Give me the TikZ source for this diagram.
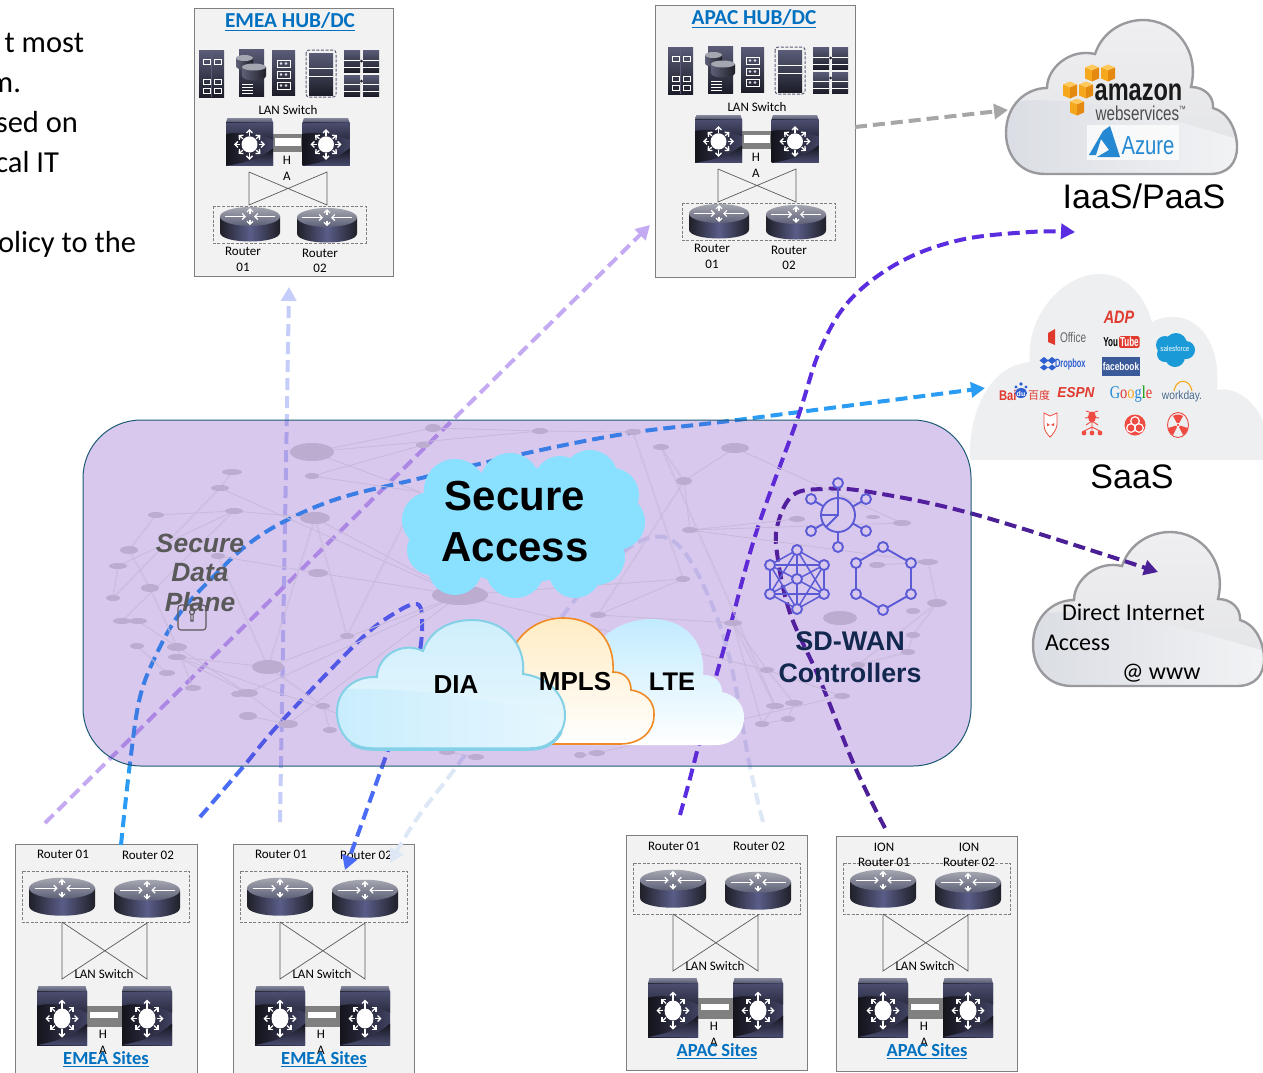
\documentclass[tikz,border=0pt]{standalone}
\usepackage{fontspec}
\setmainfont{Carlito}
\newfontfamily\ari{Liberation Sans}
\newfontfamily\lserif{Liberation Serif}
\newfontfamily\cjkf{Noto Sans CJK SC}
\usetikzlibrary{arrows.meta,calc}
\newcommand\fsz[1]{\fontsize{#1}{#1}\selectfont}
\newcommand\ulb[1]{\underline{#1}}
\definecolor{boxfill}{HTML}{F2F2F2}
\definecolor{boxline}{HTML}{7F7F7F}
\definecolor{titleblue}{HTML}{0070C0}
\definecolor{rackA}{HTML}{5A5C78}
\definecolor{rackB}{HTML}{1C1D28}
\definecolor{rtEdge}{HTML}{1F2028}
\definecolor{rtMid}{HTML}{5A5D88}
\definecolor{rtTopA}{HTML}{A4A6B0}
\definecolor{rtTopB}{HTML}{5E6078}
\definecolor{swTopA}{HTML}{85879C}
\definecolor{swTopB}{HTML}{50526A}
\definecolor{swDark}{HTML}{14141C}
\definecolor{swMid}{HTML}{3F4160}
\definecolor{swUpA}{HTML}{4C4E70}
\definecolor{swUpB}{HTML}{2A2B40}
\definecolor{swLow}{HTML}{4A4C70}
\definecolor{panelc}{HTML}{6823BB}
\definecolor{panelrim}{HTML}{1C5A74}
\definecolor{netc}{HTML}{BBACD0}
\definecolor{netl}{HTML}{C8BADA}
\definecolor{seccloud}{HTML}{8AE0FF}
\definecolor{diaA}{HTML}{CFEFFC}
\definecolor{diaB}{HTML}{EAF8FE}
\definecolor{diaC}{HTML}{C9EDFD}
\definecolor{diaD}{HTML}{E6F7FE}
\definecolor{diarim}{HTML}{84D0E6}
\definecolor{mplsA}{HTML}{FFECC4}
\definecolor{mplsrim}{HTML}{F08A24}
\definecolor{lteA}{HTML}{C2EBFF}
\definecolor{grayrim}{HTML}{9A9A9E}
\definecolor{cloudA}{HTML}{EFEFF1}
\definecolor{cloudB}{HTML}{E2E3E6}
\definecolor{cloudC}{HTML}{DADDE3}
\definecolor{cloudD}{HTML}{F2F3F5}
\definecolor{saasfill}{HTML}{EEEFF1}
\definecolor{arrGrey}{HTML}{A6A6A6}
\definecolor{arrIndigo}{HTML}{5A2DE0}
\definecolor{arrBlue}{HTML}{2B9CF4}
\definecolor{arrLilac}{HTML}{C4AAF2}
\definecolor{arrPeri}{HTML}{C5CDFA}
\definecolor{arrRoyal}{HTML}{4A6BF5}
\definecolor{arrPale}{HTML}{DDE7F5}
\definecolor{arrDark}{HTML}{4B1F96}
\definecolor{iconc}{HTML}{5B5BD6}
\definecolor{ctrltxt}{HTML}{12284F}
\definecolor{sdp}{HTML}{595959}
\definecolor{awsA}{HTML}{F5A81C}
\definecolor{awsB}{HTML}{E58A10}
\definecolor{awsC}{HTML}{FFC85A}
\definecolor{azure}{HTML}{2488D2}
\definecolor{logored}{HTML}{E03A2E}
\definecolor{iconred}{HTML}{EE4B43}
\definecolor{sfblue}{HTML}{1A9AD6}
\definecolor{fbblue}{HTML}{3B5A9A}
\definecolor{dropb}{HTML}{2E5FD0}
\definecolor{wkblue}{HTML}{4A6A8C}
\tikzset{
  txt/.style={inner sep=0pt,outer sep=0pt,align=center,text=black},
  small/.style={txt,font=\fsz{13}},
  frame/.style={draw=boxline,line width=1pt,fill=boxfill},
  dashbox/.style={draw=boxline,line width=.8pt,dash pattern=on 3pt off 1.6pt},
  xlink/.style={draw=black!65,line width=.7pt},
  halink/.style={fill=black!50},
  flow/.style={line width=4pt,dash pattern=on 12pt off 6pt,-{Triangle[length=14pt,width=15pt]}},
  net/.style={draw=netl,line width=.9pt},
  netdot/.style={draw=netl,line width=2pt,dash pattern=on .9pt off .9pt},
  pics/routericon/.style={code={
    \shade[left color=rtEdge,right color=rtEdge,middle color=rtMid]
      (-30,-8) -- (-30,8) .. controls (-30,20) and (30,20) .. (30,8) -- (30,-8) -- cycle;
    \shade[top color=rtTopA,bottom color=rtTopB] (0,-8) ellipse [x radius=30,y radius=9.5];
    \draw[white,line width=1.2pt,-{Straight Barb[length=3pt,width=6pt]}] (-25,-8) -- (-4,-8);
    \draw[white,line width=1.2pt,-{Straight Barb[length=3pt,width=6pt]}] (25,-8) -- (4,-8);
    \draw[white,line width=1.2pt,-{Straight Barb[length=3pt,width=6pt]}] (0,-11) -- (0,-16.5);
    \draw[white,line width=1.2pt,-{Straight Barb[length=3pt,width=6pt]}] (0,-5) -- (0,.5);
  }},
  pics/switchicon/.style={code={
    \shade[top color=swTopA,bottom color=swTopB] (-25,-24) -- (-23.5,-29.5) -- (23.5,-29.5) -- (25,-24) -- cycle;
    \shade[left color=swDark,right color=swMid] (-25,-24) rectangle (25,29.5);
    \shade[top color=swUpA,bottom color=swUpB] (-25,-24) -- (25,-24) -- (25,-3) .. controls (8,-11) and (-10,-13) .. (-25,-10) -- cycle;
    \shade[top color=swDark,bottom color=swLow] (25,8) .. controls (12,20) and (-5,26) .. (-25,29.5) -- (25,29.5) -- cycle;
    \fill[white] (0,3) ellipse [x radius=8.5,y radius=10];
    \foreach \ang in {0,45,135,180,225,315}
      \draw[white,line width=1.3pt,-{Straight Barb[length=3pt,width=6pt]}]
        ($(0,3)+(\ang:10)$) -- ($(0,3)+(\ang:16.5)$);
    \draw[white,line width=1.3pt,-{Straight Barb[length=3pt,width=6pt]}] (0,-7) -- (0,-16);
    \draw[white,line width=1.3pt,-{Straight Barb[length=3pt,width=6pt]}] (0,13) -- (0,22);
  }},
  pics/awscube/.style={code={
    \fill[awsC] (0,-8.5) -- (7,-5.5) -- (0,-2.5) -- (-7,-5.5) -- cycle;
    \fill[awsA] (-7,-5.5) -- (0,-2.5) -- (0,8.5) -- (-7,5.5) -- cycle;
    \fill[awsB] (7,-5.5) -- (0,-2.5) -- (0,8.5) -- (7,5.5) -- cycle;
  }},
}
\newcommand\graycloudpath{
  (1045,174) .. controls (1020,174) and (1006,155) .. (1006,133)
  .. controls (1006,105) and (1026,88) .. (1047,88)
  .. controls (1047,68) and (1070,48) .. (1095,54)
  .. controls (1103,30) and (1125,20) .. (1143,20)
  .. controls (1175,20) and (1200,50) .. (1191,87)
  .. controls (1205,87) and (1214,97) .. (1213,108)
  .. controls (1228,112) and (1237,130) .. (1237,147)
  .. controls (1237,163) and (1228,174) .. (1210,174) -- cycle}
\newcommand\graycloud[3]{%
  \begin{scope}[shift={(#2,#3)}]
    \shade[top color=cloudA,bottom color=cloudB] \graycloudpath;
    \begin{scope}
      \clip \graycloudpath;
      \shade[left color=cloudC,right color=cloudD]
        (1000,103) .. controls (1070,92) and (1160,115) .. (1240,140) -- (1240,180) -- (1000,180) -- cycle;
    \end{scope}
    \draw[grayrim,line width=2.4pt] \graycloudpath;
    \coordinate (#1) at (1120,100);
  \end{scope}}
\newcommand\serverrow[3]{%
  \begin{scope}[shift={(#2,#3)},name prefix=#1-]
    % rack with squares
    \shade[top color=rackA,bottom color=rackB] (199,50) rectangle (224,97);
    \draw[rackA,line width=.5pt] (211.5,50) -- (211.5,97);
    \foreach \xa in {203,214} \foreach \ya in {59,79,88}
      \draw[white,line width=.7pt] (\xa,\ya) rectangle ++(7,5);
    % storage
    \shade[top color=rackA,bottom color=rackB] (239,49) rectangle (264,96);
    \foreach \ya in {84,87,90,93} \draw[white,line width=.7pt] (242,\ya) -- (253,\ya);
    \shade[left color=rtTopB,right color=rtEdge] (236,58) -- (236,66) .. controls (236,71) and (253,71) .. (253,66) -- (253,58) -- cycle;
    \fill[rtTopA] (244.5,58) ellipse [x radius=8.5,y radius=3];
    \shade[left color=rtTopB,right color=rtEdge] (242,67) -- (242,76) .. controls (242,82) and (266,82) .. (266,76) -- (266,67) -- cycle;
    \fill[rtTopA] (254,67) ellipse [x radius=12,y radius=3.5];
    % tape
    \shade[top color=rackA,bottom color=rackB] (272,50) rectangle (295,95);
    \foreach \ya in {60,71,82} {
      \draw[white,line width=.7pt] (277,\ya) rectangle ++(13,7);
      \draw[white,line width=.5pt] (281,\ya+3.5) circle (1pt) (286,\ya+3.5) circle (1pt);
    }
    % dashed rack
    \draw[dashbox,draw=rackA,line width=1pt,rounded corners=3pt] (306,50) rectangle (336,97);
    \shade[top color=rackA,bottom color=rackB] (309,53) rectangle (333,95);
    \foreach \ya in {68,76.5} \draw[white,line width=1pt] (309,\ya) -- (333,\ya);
    % blade rack
    \foreach \xa in {344,363} {
      \shade[top color=rackA,bottom color=rackB] (\xa,50) rectangle ++(16,22);
      \shade[top color=rackA,bottom color=rackB] (\xa,75) rectangle ++(16,21);
      \foreach \ya in {60,67,84,91} \draw[white,line width=.6pt] (\xa,\ya) -- ++(16,0);
    }
    \fill[rackB] (361.5,61) circle (1.5pt) (361.5,81) circle (1.5pt);
    \node[small] (lan) at (288,110) {LAN Switch};
    \coordinate (s1) at (249,172); \coordinate (s2) at (327,172);
    \coordinate (r1) at (249,205); \coordinate (r2) at (327,205);
    \draw[xlink] (s1) -- (r1) -- (s2) -- (r2) -- (s1);
    \fill[halink] (273,134) rectangle (303,152);
    \fill[white] (275,138) rectangle (301,146);
    \pic[xscale=.94,yscale=.81] (swa) at (249.5,142) {switchicon};
    \pic[xscale=.94,yscale=.81] (swb) at (326,142) {switchicon};
    \node[small] (hah) at (287,160) {H};
    \node[small] (haa) at (287,176) {A};
    \draw[dashbox] (213,206) rectangle (366,243);
    \pic (rta) at (250,224.5) {routericon};
    \pic (rtb) at (327,225.5) {routericon};
    \node[small] (la) at (243,251) {Router};
    \node[small] (lb) at (243,267) {01};
    \node[small] (lc) at (320,253) {Router};
    \node[small] (ld) at (320,268) {02};
  \end{scope}}
\newcommand\sitecontent[4]{%
  \begin{scope}[shift={(#2,#3)},name prefix=#1-]
    \coordinate (r1) at (62,922); \coordinate (r2) at (147,923);
    \coordinate (s1) at (62,979); \coordinate (s2) at (147,979);
    \draw[dashbox] (22,871) rectangle (189,922);
    \draw[xlink] (r1) -- (s1) -- (r2) -- (s2) -- (r1);
    \pic[scale=1.1] (rta) at (62,897) {routericon};
    \pic[scale=1.1] (rtb) at (147,899) {routericon};
    \node[small] (lan) at (104,974) {LAN Switch};
    \fill[halink] (87,1006) rectangle (122,1027);
    \fill[white] (90,1012) rectangle (118,1018);
    \pic (swa) at (62,1015.5) {switchicon};
    \pic (swb) at (147,1015.5) {switchicon};
    \node[small] (hah) at (103,1034) {H};
    \node[small] (haa) at (103,1050) {A};
    \node[txt,font=\fsz{18.5}\bfseries,text=titleblue] (title) at (106,1059) {\ulb{#4}};
  \end{scope}}
\begin{document}
\begin{tikzpicture}[x=1pt,y=-1pt]
\useasboundingbox (0,0) rectangle (1263,1072);
\clip (0,0) rectangle (1263,1072);
% clipped page text
\node[txt,anchor=base east,font=\fsz{30.5}] (ta) at (84,52) {t most};
\node[txt,anchor=base east,font=\fsz{30.5}] (tb) at (21,92) {m.};
\node[txt,anchor=base east,font=\fsz{30.5}] (tc) at (78,132) {sed on};
\node[txt,anchor=base east,font=\fsz{30.5}] (td) at (59,172) {cal IT};
\node[txt,anchor=base east,font=\fsz{30.5}] (te) at (136,252) {olicy to the};
% hub boxes
\draw[frame] (194,8) rectangle (393,276);
\node[txt,font=\fsz{21.3}\bfseries,text=titleblue] (emeahub) at (290,22) {\ulb{EMEA HUB/DC}};
\serverrow{emea}{0}{0}
\draw[frame] (655,5) rectangle (855,277);
\node[txt,font=\fsz{21.3}\bfseries,text=titleblue] (apachub) at (754,19) {\ulb{APAC HUB/DC}};
\serverrow{apac}{469}{-3}
% site boxes
\draw[frame] (15,844) rectangle (197,1080);
\node[small] (s1a) at (63,854) {Router 01};
\node[small] (s1b) at (148,855) {Router 02};
\sitecontent{site1}{0}{0}{EMEA Sites}
\draw[frame] (233,844) rectangle (414,1080);
\node[small] (s2a) at (281,854) {Router 01};
\node[small] (s2b) at (366,855) {Router 02};
\sitecontent{site2}{218}{0}{EMEA Sites}
\draw[frame] (626,835) rectangle (807,1070);
\node[small] (s3a) at (674,846) {Router 01};
\node[small] (s3b) at (759,846) {Router 02};
\sitecontent{site3}{611}{-8}{APAC Sites}
\draw[frame] (836,836) rectangle (1017,1071);
\node[small] (s4a) at (884,847) {ION};
\node[small] (s4b) at (969,847) {ION};
\sitecontent{site4}{821}{-8}{APAC Sites}
\node[small] (s4c) at (884,862) {Router 01};
\node[small] (s4d) at (969,862) {Router 02};
% targets
\graycloud{iaas}{0}{0}
\graycloud{dia}{27}{512}
% SaaS cloud
\fill[saasfill] (970,460) .. controls (968,420) and (985,366) .. (1030,362)
  .. controls (1025,320) and (1060,274) .. (1100,274)
  .. controls (1125,274) and (1145,295) .. (1152,322)
  .. controls (1185,305) and (1222,330) .. (1217,390)
  .. controls (1240,385) and (1263,410) .. (1265,430) -- (1265,460) -- cycle;
\coordinate (saas) at (1100,390);
% connector way points
\foreach \n/\x/\y in {
 gr0/855/127, gr1/1008/110,
 in0/680/815, in1/693/767, in2/717/673, in3/730/627, in4/757/530, in5/797/420, in6/820/350, in7/850/300, in8/900/262, in9/960/240, in10/1030/232, in11/1075/232,
 bl0/121/845, bl1/130/763, bl2/140/697, bl3/157/653, bl4/180/613, bl5/213/577, bl6/247/545, bl7/287/520, bl8/340/498, bl9/413/480, bl10/527/453, bl11/630/433, bl12/737/420, bl13/985/388,
 pe0/280/822, pe1/289/287,
 li0/45/823, li1/650/225,
 ro0/200/817, ro1/243/767, ro2/280/723, ro3/363/637, ro4/400/610, ro5/417/604, ro6/422/615, ro7/420/650, ro8/405/700, ro9/387/753, ro10/345/870,
 pa0/763/822, pa1/750/767, pa2/730/660, pa3/707/593, pa4/680/547, pa5/653/537, pa6/617/557, pa7/567/610, pa8/465/755, pa9/418/817, pa10/390/863,
 da0/885/828, da1/855/767, da2/820/680, da3/790/613, da4/777/553, da5/778/523, da6/793/495, da7/823/489, da8/870/492, da9/977/515, da10/1158/572}
 {\coordinate (\n) at (\x,\y);}
% connectors (the panel is laid over them)
\draw[flow,arrGrey] (gr0) -- (gr1);
\draw[flow,arrPeri] (pe0) -- (pe1);
\draw[flow,arrLilac] (li0) -- (li1);
\draw[flow,arrPale] plot[smooth,tension=.6] coordinates {(pa0) (pa1) (pa2) (pa3) (pa4) (pa5) (pa6) (pa7) (pa8) (pa9) (pa10)};
\draw[flow,arrBlue] plot[smooth,tension=.6] coordinates {(bl0) (bl1) (bl2) (bl3) (bl4) (bl5) (bl6) (bl7) (bl8) (bl9) (bl10) (bl11) (bl12) (bl13)};
\draw[flow,arrRoyal] plot[smooth,tension=.5] coordinates {(ro0) (ro1) (ro2) (ro3) (ro4) (ro5) (ro6) (ro7) (ro8) (ro9) (ro10)};
\draw[flow,arrIndigo] plot[smooth,tension=.6] coordinates {(in0) (in1) (in2) (in3) (in4) (in5) (in6) (in7) (in8) (in9) (in10) (in11)};
\draw[flow,arrDark] plot[smooth,tension=.6] coordinates {(da0) (da1) (da2) (da3) (da4) (da5) (da6) (da7) (da8) (da9) (da10)};
% panel
\fill[panelc,opacity=.25] (83,420) [rounded corners=58pt] rectangle (971,766);
\draw[panelrim,line width=1pt,rounded corners=58pt] (83,420) rectangle (971,766);
% faint network
\foreach \i/\x/\y/\rx/\ry in {
 1/312/452/22/9,2/433/428/8/4,3/423/445/7/3,4/312/476/7/3,5/232/472/10/3,6/220/488/9/3,7/234/511/9/3,8/156/515/8/3,9/315/518/15/6,10/129/550/9/4,
 11/118/566/9/3,12/113/598/7/3,13/150/588/9/4,14/218/556/7/3,15/318/573/10/4,16/122/621/9/3,17/138/621/9/3,18/137/646/7/3,19/177/647/10/4,20/177/657/9/3,
 21/167/673/8/3,22/193/688/8/3,23/237/694/6/3,24/247/693/11/4,25/248/716/9/4,26/268/667/16/7,27/288/724/10/4,28/323/706/7/3,29/330/730/7/3,30/347/636/7/3,
 31/460/595/28/10,32/447/752/8/3,33/476/757/8/3,34/540/431/8/3,35/633/432/8/3,36/661/447/8/3,37/735/448/14/5,38/684/481/8/4,39/690/530/8/3,40/683/579/7/3,
 41/598/615/8/3,42/733/623/9/3,43/797/519/8/3,44/873/517/7/2,45/902/523/9/3,46/877/565/8/3,47/928/562/10/3,48/937/603/10/4,49/913/611/7/3,50/840/618/17/7,
 51/913/635/7/3,52/908/652/7/3,53/858/665/7/3,54/767/670/7/3,55/842/696/8/3,56/794/703/9/3,57/775/706/9/3,58/788/719/7/3,59/762/724/7/3,60/597/753/8/3,61/580/755/6/3,62/420/492/6/3}
 {\coordinate (n\i) at (\x,\y);}
\foreach \a/\b in {1/2,1/62,4/3,4/62,6/31,7/9,8/7,9/31,15/31,14/15,16/7,17/24,20/26,20/32,20/24,24/31,24/27,27/31,25/27,26/31,37/45,37/38,39/45,39/47,40/41,41/42,42/59,46/47,54/55,55/60,56/58,57/59,58/59,38/39,1/34,2/34,34/35,28/29,23/24,60/61,33/32,11/7,31/54,39/43,40/31,42/54}
 \draw[net] (n\a) -- (n\b);
\foreach \a/\b in {5/6,6/12,8/10,10/13,13/19,11/12,14/26,9/26,9/30,62/30,18/21,36/57,35/40,38/36,47/48,48/51,48/53,51/52,52/53,57/42,56/54,38/41,19/22,26/28}
 \draw[netdot] (n\a) -- (n\b);
\foreach \x/\y/\rx/\ry in {
 312/452/22/9,433/428/8/4,423/445/7/3,312/476/7/3,232/472/10/3,220/488/9/3,234/511/9/3,156/515/8/3,315/518/15/6,129/550/9/4,
 118/566/9/3,113/598/7/3,150/588/9/4,218/556/7/3,318/573/10/4,122/621/9/3,138/621/9/3,137/646/7/3,177/647/10/4,177/657/9/3,
 167/673/8/3,193/688/8/3,237/694/6/3,247/693/11/4,248/716/9/4,268/667/16/7,288/724/10/4,323/706/7/3,330/730/7/3,347/636/7/3,
 460/595/28/10,447/752/8/3,476/757/8/3,540/431/8/3,633/432/8/3,661/447/8/3,735/448/14/5,684/481/8/4,690/530/8/3,683/579/7/3,
 598/615/8/3,733/623/9/3,797/519/8/3,873/517/7/2,902/523/9/3,877/565/8/3,928/562/10/3,937/603/10/4,913/611/7/3,840/618/17/7,
 913/635/7/3,908/652/7/3,858/665/7/3,767/670/7/3,842/696/8/3,794/703/9/3,775/706/9/3,788/719/7/3,762/724/7/3,597/753/8/3,580/755/6/3}
 {\fill[netc] (\x,\y) ellipse [x radius=\rx,y radius=\ry];}
% Secure data plane
\node[txt,font=\ari\fsz{26.4}\bfseries\itshape,text=sdp] (sdpa) at (200,543) {Secure};
\node[txt,font=\ari\fsz{26.4}\bfseries\itshape,text=sdp] (sdpb) at (200,573) {Data};
\node[txt,font=\ari\fsz{26.4}\bfseries\itshape,text=sdp] (sdpc) at (200,602) {Plane};
\draw[sdp,line width=1.1pt,rounded corners=3pt] (178,605) rectangle (206,630);
\draw[sdp,line width=1.1pt] (192,612) circle (2.5pt) (190.8,614) -- (191,621) -- (193,621) -- (193.2,614);
% Secure Access cloud
\fill[seccloud] (430,520) circle (28) (432,550) circle (25) (455,490) circle (31) (510,483) circle (30) (560,482) circle (26) (590,478) circle (28)
 (612,495) circle (27) (617,522) circle (28) (597,557) circle (28) (575,572) circle (26) (515,568) circle (30) (455,568) circle (27) (520,525) ellipse [x radius=90,y radius=58];
\node[txt,font=\ari\fsz{42}\bfseries] (secure) at (515,496) {Secure};
\node[txt,font=\ari\fsz{42}\bfseries] (access) at (515,547) {Access};
% LTE cloud
\shade[top color=lteA,bottom color=white]
 (600,640) .. controls (612,628) and (630,619) .. (652,619)
 .. controls (685,619) and (706,642) .. (703,675)
 .. controls (714,674) and (722,682) .. (722,692)
 .. controls (736,695) and (744,705) .. (744,717)
 .. controls (744,734) and (732,745) .. (716,745) -- (560,745) -- cycle;
% MPLS cloud
\shade[top color=mplsA,bottom color=white,draw=mplsrim,line width=1.6pt]
 (515,645) .. controls (525,628) and (543,618) .. (563,618)
 .. controls (595,618) and (615,640) .. (613,672)
 .. controls (625,672) and (631,680) .. (631,690)
 .. controls (645,692) and (655,702) .. (654,715)
 .. controls (654,732) and (640,744) .. (620,744) -- (545,744) -- cycle;
% DIA cloud
\newcommand\diapath{(372,749) .. controls (350,749) and (337,732) .. (337,712)
 .. controls (337,690) and (355,676) .. (377,677)
 .. controls (377,658) and (400,640) .. (423,651)
 .. controls (430,630) and (450,620) .. (472,620)
 .. controls (505,620) and (526,645) .. (523,674)
 .. controls (548,677) and (565,695) .. (565,715)
 .. controls (565,735) and (550,749) .. (530,749) -- cycle}
\shade[top color=diaA,bottom color=diaB] \diapath;
\begin{scope}
 \clip \diapath;
 \shade[left color=diaC,right color=diaD] (335,689) .. controls (420,688) and (480,695) .. (570,720) -- (570,755) -- (335,755) -- cycle;
\end{scope}
\draw[diarim,line width=2pt] \diapath;
\draw[diarim,line width=3.5pt,line cap=round] (352,744) .. controls (360,748) and (366,749) .. (372,749) -- (530,749) .. controls (545,749) and (555,743) .. (561,732);
\node[txt,font=\ari\fsz{26}\bfseries] (dial) at (456,685) {DIA};
\node[txt,font=\ari\fsz{26}\bfseries] (mpls) at (575,682) {MPLS};
\node[txt,font=\ari\fsz{25.5}\bfseries] (lte) at (672,682) {LTE};
% SD-WAN icons
\begin{scope}[iconc,line width=1.9pt]
 \foreach \n/\x/\y in {a/838/483,b/866/499,c/866/531,d/838/547,e/811/531,f/811/499}
  \coordinate (hub\n) at (\x,\y);
 \coordinate (hubo) at (838,515);
 \foreach \n in {a,b,c,d,e,f} \draw (hubo) -- (hub\n);
 \fill[fill=panelc!25!white] (hubo) circle (17);
 \draw (hubo) circle (17);
 \draw (838,498) -- (hubo) -- (821,515) (hubo) -- (826,527);
 \foreach \n in {a,b,c,d,e,f} \draw[fill=panelc!25!white] (hub\n) circle (5);
 \foreach \n/\x/\y in {a/797/550,b/824/565,c/824/594,d/797/609,e/770/594,f/770/565,o/797/579}
  \coordinate (msh\n) at (\x,\y);
 \foreach \p/\q in {a/b,a/c,a/d,a/e,a/f,b/c,b/d,b/e,b/f,c/d,c/e,c/f,d/e,d/f,e/f}
  \draw[line width=1.5pt] (msh\p) -- (msh\q);
 \foreach \n in {a,b,c,d,e,f,o} \draw[fill=panelc!25!white] (msh\n) circle (5);
 \foreach \n/\x/\y in {a/883/547,b/911/563,c/911/594,d/883/610,e/856/594,f/856/563}
  \coordinate (hx\n) at (\x,\y);
 \draw (hxa) -- (hxb) -- (hxc) -- (hxd) -- (hxe) -- (hxf) -- cycle;
 \foreach \n in {a,b,c,d,e,f} \draw[fill=panelc!25!white] (hx\n) circle (5);
\end{scope}
\node[txt,font=\ari\fsz{27}\bfseries,text=ctrltxt] (sdwan) at (850,641) {SD-WAN};
\node[txt,font=\ari\fsz{26.8}\bfseries,text=ctrltxt] (ctrl) at (850,673) {Controllers};
% IaaS contents
\pic (cube1) at (1092,73) {awscube};
\pic (cube2) at (1108,73) {awscube};
\pic (cube3) at (1070,90) {awscube};
\pic (cube4) at (1086,90) {awscube};
\pic (cube5) at (1077,107) {awscube};
\node[txt,font=\ari\fsz{31}\bfseries,text=black!90] (amazon) at (1138.5,92) {\scalebox{.76}[1]{amazon}};
\node[txt,font=\ari\fsz{20},text=black!70] (awsws) at (1141,113) {\scalebox{.76}[1]{webservices\textsuperscript{\fsz{9}™}}};
\fill[white,opacity=.75] (1087,125) rectangle (1179,160);
\fill[azure] (1089,155) -- (1103,131) -- (1110,126) -- (1120,157) -- (1097,157) -- (1109,150) -- (1101,139) -- (1096,155) -- cycle;
\node[txt,font=\ari\fsz{26},text=azure] (azuret) at (1148,146) {\scalebox{.78}[1]{Azure}};
\node[txt,font=\ari\fsz{34}] (iaast) at (1144,196) {IaaS/PaaS};
% SaaS contents
\node[txt,font=\ari\fsz{34}] (saast) at (1132,477) {SaaS};
\node[txt,font=\ari\fsz{18}\bfseries\itshape,text=logored] (adp) at (1119,317) {\scalebox{.8}[1]{ADP}};
\fill[logored] (1048,333) -- (1055,329) -- (1055,345) -- (1048,342) -- cycle;
\node[txt,font=\ari\fsz{14},text=black!60,anchor=west] (office) at (1060,337) {\scalebox{.72}[1]{Office}};
\node[txt,font=\ari\fsz{13}\bfseries,text=black,anchor=east] (youa) at (1118,342) {\scalebox{.62}[1]{You}};
\node[txt,fill=logored,rounded corners=1.5pt,inner sep=1pt,font=\ari\fsz{13}\bfseries,text=white,anchor=west] (youb) at (1119,342) {\scalebox{.62}[1]{Tube}};
\fill[sfblue] (1165,345) circle (9) (1176,344) circle (11) (1186,350) circle (9) (1175,357) circle (10) (1165,354) circle (8);
\node[txt,font=\ari\fsz{7.5},text=white] (sf) at (1175,348.5) {\scalebox{.85}[1]{salesforce}};
\fill[dropb] (1044,357) -- (1048.5,360.5) -- (1044,364) -- (1039.5,360.5) -- cycle (1052,357) -- (1056.5,360.5) -- (1052,364) -- (1047.5,360.5) -- cycle (1044,364.5) -- (1048,367.5) -- (1044,370.5) -- (1040,367.5) -- cycle (1052,364.5) -- (1056,367.5) -- (1052,370.5) -- (1048,367.5) -- cycle;
\node[txt,font=\ari\fsz{12}\bfseries,text=dropb,anchor=west] (dropbox) at (1055,364.5) {\scalebox{.62}[1]{Dropbox}};
\node[txt,fill=fbblue,font=\ari\fsz{11}\bfseries,text=white,minimum width=38pt,minimum height=19pt] (fb) at (1121,366.5) {\scalebox{.75}[1]{facebook}};
\node[txt,font=\ari\fsz{14}\bfseries,text=logored,anchor=west] (baia) at (999,395) {\scalebox{.8}[1]{Bai}};
\fill[dropb] (1021,393) ellipse [x radius=6,y radius=5] (1016,387) circle (1.7) (1021,384) circle (1.8) (1026,387) circle (1.7);
\node[txt,font=\ari\fsz{7}\bfseries,text=white] (baib) at (1021,394) {du};
\node[txt,font=\cjkf\fsz{11},text=logored,anchor=west] (baic) at (1028,395) {百度};
\node[txt,font=\ari\fsz{16}\bfseries\itshape,text=logored] (espn) at (1076,393) {\scalebox{.85}[.9]{ESPN}};
\node[txt,font=\lserif\fsz{18}] (google) at (1131,394) {\scalebox{.8}[1]{\textcolor{azure}{G}\textcolor{logored}{o}\textcolor{awsA}{o}\textcolor{azure}{g}\textcolor{green!60!black}{l}\textcolor{logored}{e}}};
\draw[awsA,line width=1.1pt] (1174,391) .. controls (1176,378) and (1190,378) .. (1192,391);
\node[txt,font=\ari\fsz{12},text=wkblue] (workday) at (1182,396) {\scalebox{.85}[1]{workday.}};
% threat icons
\draw[iconred,line width=.8pt,fill=white] (1044,413) -- (1050,416) -- (1057,413) -- (1057,425) .. controls (1056,431) and (1052,435) .. (1050,437) .. controls (1048,435) and (1044,431) .. (1044,425) -- cycle;
\fill[iconred] (1047,423) -- (1050,425) -- (1047,426) -- cycle (1054,423) -- (1051,425) -- (1054,426) -- cycle;
\fill[iconred] (1092,417) ellipse [x radius=4,y radius=5.5];
\draw[iconred,line width=.9pt] (1092,413) -- (1086,411) (1092,413) -- (1098,411) (1092,417) -- (1085,418) (1092,417) -- (1099,418) (1092,421) -- (1086,425) (1092,421) -- (1098,425) (1092,422) -- (1092,430) (1092,427) -- (1084,431) (1092,427) -- (1100,431);
\fill[iconred] (1084,433) circle (2.4) (1092,433) circle (2.4) (1100,433) circle (2.4);
\fill[iconred] (1135,425) circle (10.5);
\draw[white,line width=1.2pt] (1135,421) circle (4.3) (1131,428) circle (4.3) (1139,428) circle (4.3);
\draw[iconred,line width=.9pt] (1178,425) ellipse [x radius=10.5,y radius=12.5];
\fill[iconred] (1178,425) -- (1173,416) .. controls (1176,414) and (1180,414) .. (1183,416) -- cycle
 (1178,425) -- (1188,428) .. controls (1188,431) and (1186,434) .. (1183,435) -- cycle
 (1178,425) -- (1168,428) .. controls (1168,431) and (1170,434) .. (1173,435) -- cycle;
\fill[white] (1178,425) circle (2);
\fill[iconred] (1178,425) circle (1.3);
% Direct internet text
\node[txt,anchor=base west,font=\fsz{24}] (dit) at (1062,620) {Direct Internet};
\node[txt,anchor=base west,font=\fsz{24}] (dia2) at (1045,650) {Access};
\node[txt,anchor=base west,font=\fsz{24}] (dia3) at (1122,679) {@ www};
\end{tikzpicture}
\end{document}
